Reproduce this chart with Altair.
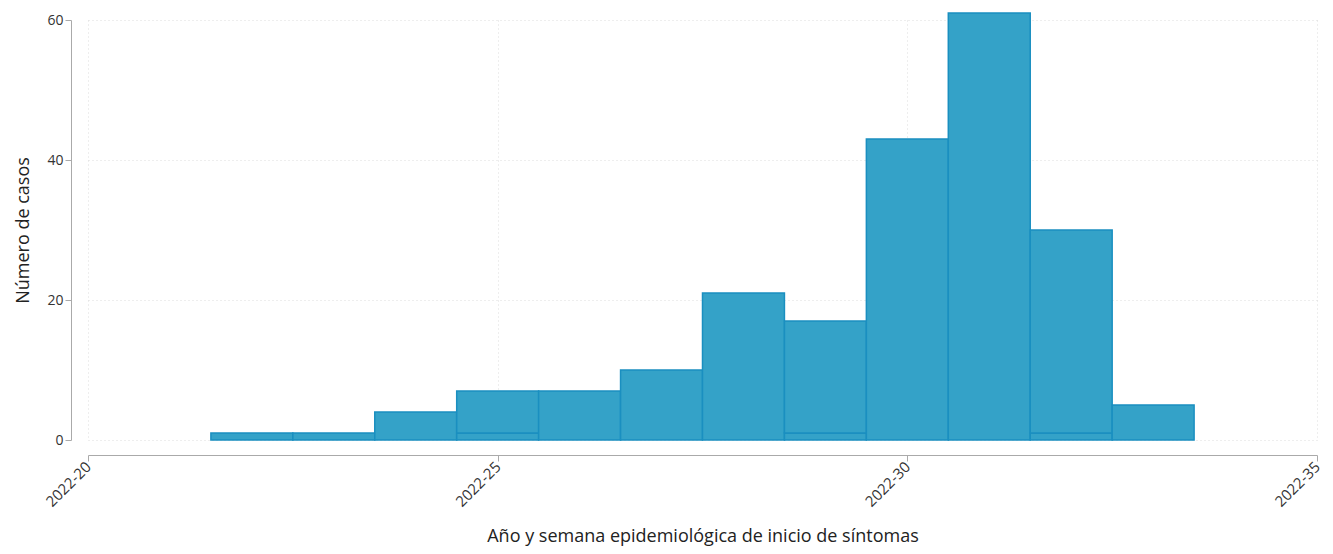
import altair as alt
import pandas as pd

weeks = [22, 23, 24, 25, 26, 27, 28, 29, 30, 31, 32, 33]
main_counts = [1, 1, 4, 6, 7, 10, 21, 16, 43, 61, 29, 5]
extra_counts = [0, 0, 0, 1, 0, 0, 0, 1, 0, 0, 1, 0]
x_ticks = [20, 25, 30, 35]
y_ticks = [0, 20, 40, 60]

rows = []
for w, a, b in zip(weeks, main_counts, extra_counts):
    rows.append({"week": w, "start": w - 0.5, "end": w + 0.5, "grupo": "a", "orden": 0, "casos": b})
    rows.append({"week": w, "start": w - 0.5, "end": w + 0.5, "grupo": "b", "orden": 1, "casos": a})
df = pd.DataFrame(rows)
df = df[df["casos"] > 0]

FONT = "Open Sans"

chart = alt.Chart(df).transform_stack(
    stack="casos", groupby=["week"], as_=["y0", "y1"],
    sort=[alt.SortField("orden", order="ascending")]
).mark_bar(
    fill="#34a2c8", stroke="#1a8fc0", strokeWidth=1.5
).encode(
    x=alt.X("start:Q",
            scale=alt.Scale(domain=[20, 35], nice=False, zero=False),
            axis=alt.Axis(values=x_ticks, labelExpr="'2022-' + datum.value",
                          labelAngle=-45, labelAlign="right", labelBaseline="middle",
                          title="Año y semana epidemiológica de inicio de síntomas",
                          offset=15, grid=True, gridDash=[1, 3], gridColor="#dddddd",
                          domainColor="#aaaaaa", tickColor="#aaaaaa", tickSize=6,
                          labelFontSize=15, labelColor="#333333", labelFont=FONT,
                          titleFont=FONT, titleFontSize=18, titleFontWeight="normal",
                          titleColor="#222222", titlePadding=18, labelPadding=3)),
    x2="end:Q",
    y=alt.Y("y0:Q",
            scale=alt.Scale(domain=[0, 60], nice=False),
            axis=alt.Axis(values=y_ticks, title="Número de casos",
                          offset=17, grid=True, gridDash=[1, 3], gridColor="#dddddd",
                          domainColor="#aaaaaa", tickColor="#aaaaaa", tickSize=6,
                          labelFontSize=14, labelColor="#333333", labelFont=FONT,
                          titleFont=FONT, titleFontSize=18, titleFontWeight="normal",
                          titleColor="#222222", titlePadding=14)),
    y2="y1:Q",
).properties(
    width=1229, height=420,
    autosize=alt.AutoSizeParams(type="none"),
    padding={"left": 80, "top": 12, "right": 8, "bottom": 106},
).configure_view(stroke=None)

chart.save("out.html", embed_options={"renderer": "svg", "actions": False})
